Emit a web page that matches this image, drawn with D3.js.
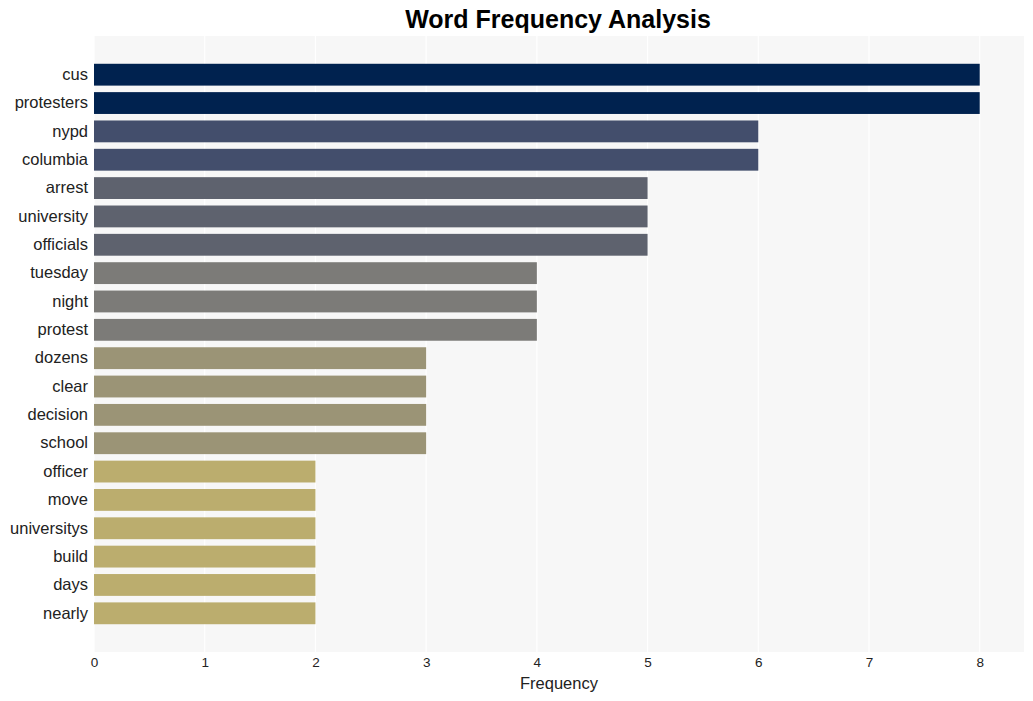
<!DOCTYPE html>
<html><head><meta charset="utf-8">
<script src="https://cdn.jsdelivr.net/npm/d3@7"></script>
<style>body{margin:0;background:#fff;}svg{display:block;font-family:"Liberation Sans",Arial,sans-serif;}</style>
</head><body>
<svg id="c" width="1033" height="701"></svg>
<script>
const words = ["cus","protesters","nypd","columbia","arrest","university","officials","tuesday","night","protest","dozens","clear","decision","school","officer","move","universitys","build","days","nearly"];
const counts = [8,8,6,6,5,5,5,4,4,4,3,3,3,3,2,2,2,2,2,2];
const xTicks = [0,1,2,3,4,5,6,7,8];
const colorByCount = {8:"#00224f",6:"#434e6c",5:"#5e626e",4:"#7c7b78",3:"#9b9476",2:"#bbad6e"};

const svg = d3.select("#c");
const m = {left:94, right:1024, top:36, bottom:652};
const x = d3.scaleLinear().domain([0,8.4]).range([m.left,m.right]);
const y = d3.scaleBand().domain(words).range([m.top,m.bottom]).paddingInner(0.23).paddingOuter(0.98);

svg.append("rect").attr("x",m.left).attr("y",m.top).attr("width",m.right-m.left).attr("height",m.bottom-m.top).attr("fill","#f7f7f7");
svg.append("g").selectAll("line").data(xTicks).join("line")
  .attr("x1",d=>x(d)).attr("x2",d=>x(d)).attr("y1",m.top).attr("y2",m.bottom)
  .attr("stroke","#ffffff").attr("stroke-width",1.2);

svg.append("g").selectAll("rect").data(words).join("rect")
  .attr("x",x(0)).attr("y",d=>y(d)).attr("height",y.bandwidth())
  .attr("width",(d,i)=>x(counts[i])-x(0)).attr("fill",(d,i)=>colorByCount[counts[i]]);

const xa = svg.append("g").attr("transform",`translate(0,${m.bottom})`)
  .call(d3.axisBottom(x).tickValues(xTicks).tickSize(0).tickPadding(5).tickFormat(d3.format("d")));
xa.select(".domain").remove();
xa.selectAll("text").attr("font-size",13.5).attr("fill","#222").attr("font-family","Liberation Sans, Arial, sans-serif");

const ya = svg.append("g").attr("transform",`translate(${m.left},0)`)
  .call(d3.axisLeft(y).tickSize(0).tickPadding(6));
ya.select(".domain").remove();
ya.selectAll("text").attr("font-size",16.5).attr("fill","#222").attr("font-family","Liberation Sans, Arial, sans-serif");

svg.append("text").attr("x",(m.left+m.right)/2).attr("y",689).attr("text-anchor","middle")
  .attr("font-size",16.5).attr("fill","#222").text("Frequency");
svg.append("text").attr("x",558).attr("y",28).attr("text-anchor","middle")
  .attr("font-size",25).attr("font-weight","bold").attr("fill","#000").text("Word Frequency Analysis");
</script>
</body></html>
